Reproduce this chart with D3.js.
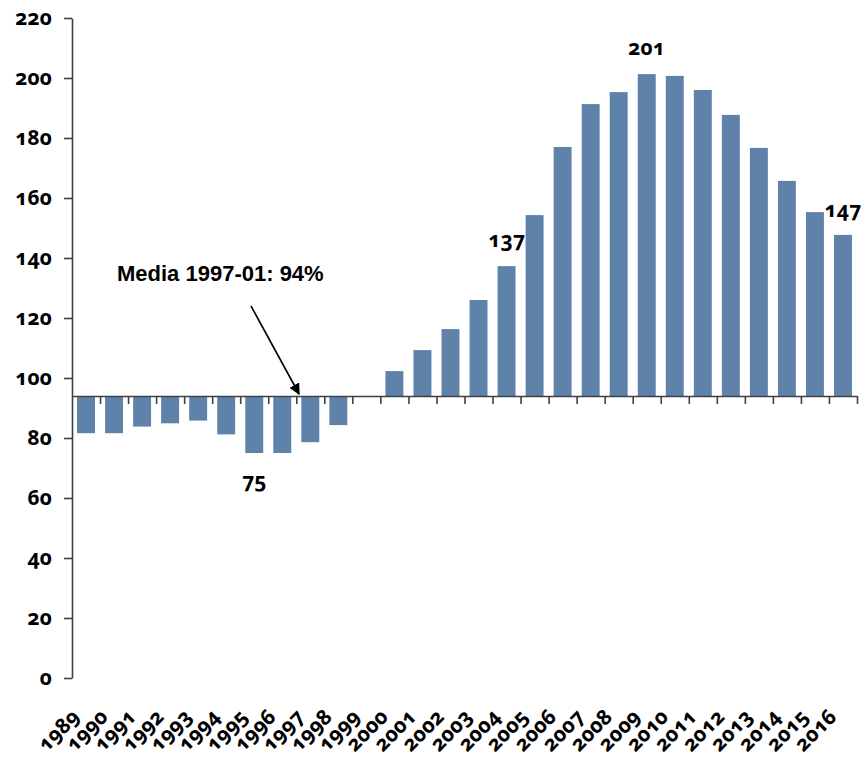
<!DOCTYPE html>
<html>
<head>
<meta charset="utf-8">
<script src="https://cdn.jsdelivr.net/npm/d3@7"></script>
<style>
  body { margin: 0; background: #fff; }
  svg { display: block; }
  .num { font-family: 'Noto Sans', 'Open Sans', sans-serif; font-weight: bold;
         font-feature-settings: "onum" 1; font-variant-numeric: oldstyle-nums; }
</style>
</head>
<body>
<div id="chart"></div>
<script>
// 1: DATA (index values, base = 100)
const years = d3.range(1989, 2017).map(String);
const values = [81.6, 81.6, 83.8, 84.9, 85.8, 81.2, 75.0, 75.0, 78.6, 84.3,
                94.0, 102.3, 109.3, 116.3, 126.0, 137.3, 154.3, 177.0, 191.3, 195.3,
                201.3, 200.7, 196.0, 187.7, 176.7, 165.7, 155.3, 147.7];
const yTicks = [0, 20, 40, 60, 80, 100, 120, 140, 160, 180, 200, 220];
const baseValue = 94;
const labelYears = ["1995", "2004", "2009", "2016"];
const labelTexts = ["75", "137", "201", "147"];
const noteText = "Media 1997-01: 94%";

const data = years.map((y, i) => ({ year: y, value: values[i] }));

// 2: SVG
const W = 861, H = 758;
const margin = { left: 72, right: 857, top: 18, bottom: 678 };
const axisColor = "#404040";
const barColor = "#5f82ab";

const svg = d3.select("#chart")
  .append("svg")
  .attr("width", W)
  .attr("height", H);

// 3: SCALES
const xScale = d3.scaleBand()
  .domain(years)
  .range([margin.left, margin.right])
  .paddingInner(0.36)
  .paddingOuter(0.18);

// boundary scale for the ticks on the base line
const xEdge = d3.scaleLinear()
  .domain([0, years.length])
  .range([margin.left, margin.right]);

const yScale = d3.scaleLinear()
  .domain([0, 220])
  .range([margin.bottom, margin.top]);

// 4: BARS (drawn from the 94 base line)
svg.append("g")
  .selectAll("rect")
  .data(data.filter(d => d.value !== baseValue))
  .enter()
  .append("rect")
  .attr("x", d => xScale(d.year))
  .attr("width", xScale.bandwidth())
  .attr("y", d => yScale(Math.max(d.value, baseValue)))
  .attr("height", d => Math.abs(yScale(d.value) - yScale(baseValue)))
  .style("fill", barColor);

// 5: AXES
const yAxis = svg.append("g")
  .attr("transform", `translate(${margin.left},0)`)
  .call(d3.axisLeft(yScale)
    .tickValues(yTicks)
    .tickSize(8)
    .tickSizeOuter(0)
    .tickPadding(12));

yAxis.selectAll("path, line")
  .style("stroke", axisColor)
  .style("stroke-width", 1.6);
yAxis.selectAll("text")
  .attr("class", "num")
  .style("font-size", "21px")
  .style("fill", "#000");

const baseAxis = svg.append("g")
  .attr("transform", `translate(0,${yScale(baseValue)})`)
  .call(d3.axisBottom(xEdge)
    .tickValues(d3.range(1, years.length + 1))
    .tickFormat("")
    .tickSize(8)
    .tickSizeOuter(0));

baseAxis.selectAll("path, line")
  .style("stroke", axisColor)
  .style("stroke-width", 1.6);

// year labels under the chart
const xAxis = svg.append("g")
  .attr("transform", `translate(0,${margin.bottom})`)
  .call(d3.axisBottom(xScale).tickSize(0));

xAxis.select(".domain").remove();
xAxis.selectAll("text")
  .attr("class", "num")
  .attr("text-anchor", "end")
  .attr("dy", null)
  .attr("y", null)
  .attr("transform", "translate(-5,40) rotate(-45)")
  .style("font-size", "21px")
  .style("fill", "#000");

// 6: VALUE LABELS
const labelDy = { "1995": 35, "2004": -19, "2009": -19, "2016": -18 };

svg.append("g")
  .selectAll("text")
  .data(labelYears.map((y, i) => ({ year: y, text: labelTexts[i], value: values[years.indexOf(y)] })))
  .enter()
  .append("text")
  .attr("class", "num")
  .attr("x", d => xScale(d.year) + xScale.bandwidth() / 2)
  .attr("y", d => yScale(d.value) + labelDy[d.year])
  .attr("text-anchor", "middle")
  .style("font-size", "21px")
  .text(d => d.text);

// 7: NOTE WITH ARROW
svg.append("defs")
  .append("marker")
  .attr("id", "arrow")
  .attr("viewBox", "0 0 10 10")
  .attr("refX", 9)
  .attr("refY", 5)
  .attr("markerWidth", 7)
  .attr("markerHeight", 7)
  .attr("orient", "auto")
  .append("path")
  .attr("d", "M0,0 L10,5 L0,10 z")
  .style("fill", "#000");

svg.append("text")
  .attr("x", 117)
  .attr("y", 281)
  .style("font-family", "'Liberation Sans', Arial, sans-serif")
  .style("font-weight", "bold")
  .style("font-size", "22px")
  .text(noteText);

svg.append("line")
  .attr("x1", 251)
  .attr("y1", 306)
  .attr("x2", xEdge(8.1))
  .attr("y2", yScale(baseValue) - 2)
  .style("stroke", "#000")
  .style("stroke-width", 1.6)
  .attr("marker-end", "url(#arrow)");
</script>
</body>
</html>
